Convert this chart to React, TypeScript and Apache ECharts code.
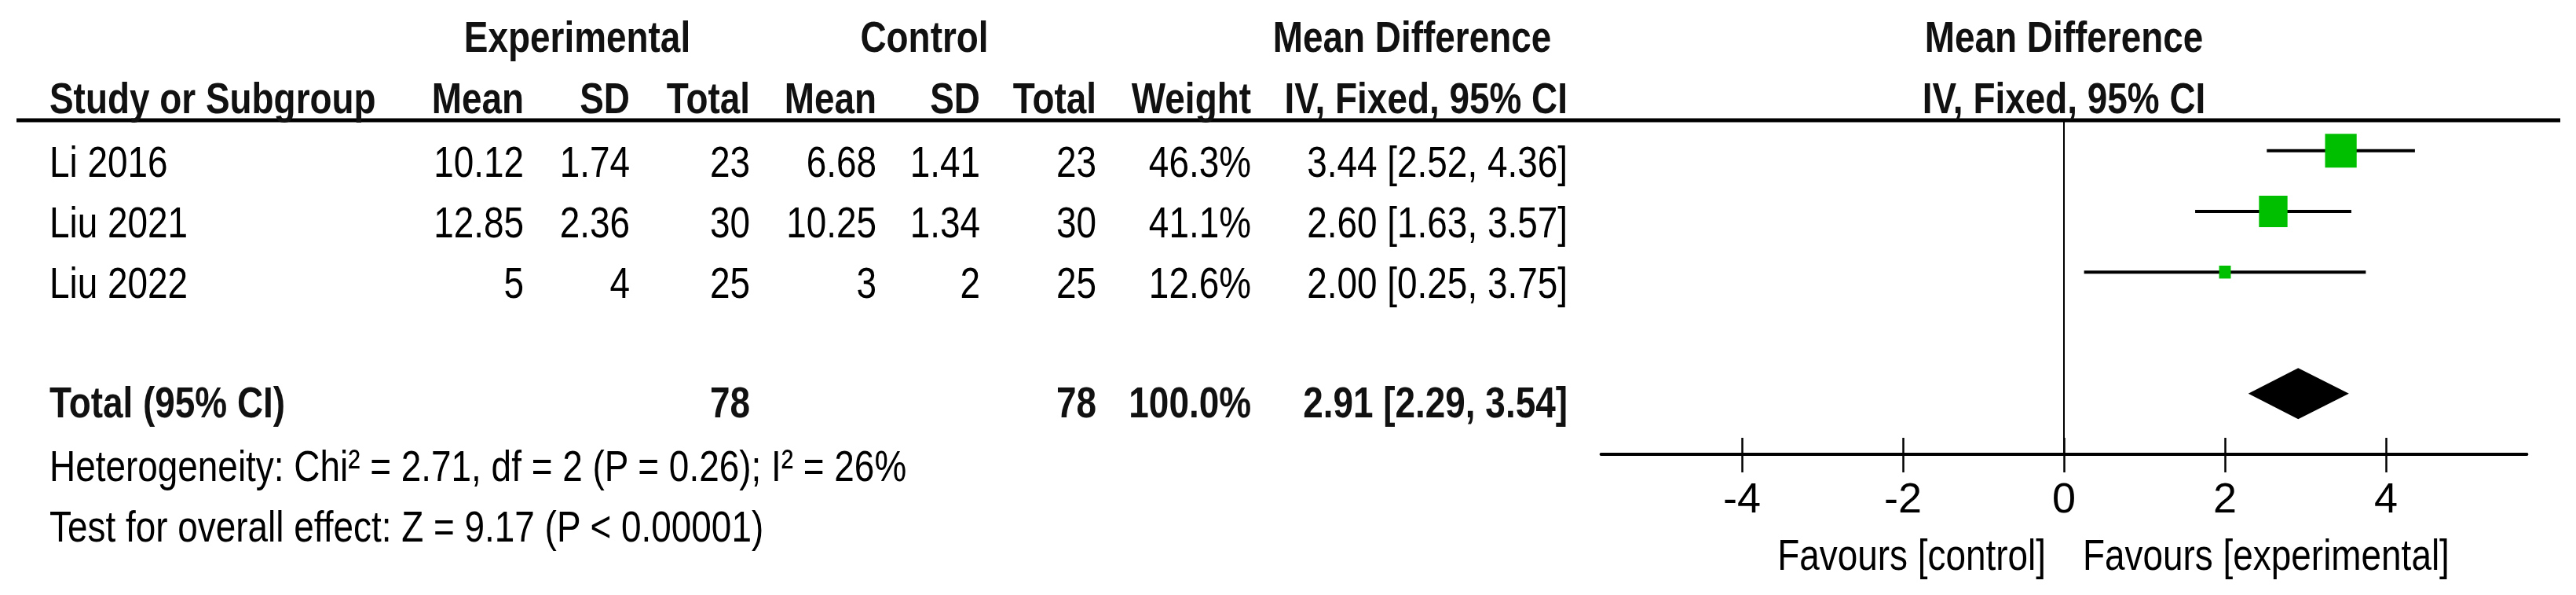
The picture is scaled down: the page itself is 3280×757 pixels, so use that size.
import React, { useEffect, useRef } from 'react';
import * as echarts from 'echarts';

// ---------- data ----------
const studies = ['Li 2016', 'Liu 2021', 'Liu 2022'];
const expMean = ['10.12', '12.85', '5'];
const expSD = ['1.74', '2.36', '4'];
const expTotal = [23, 30, 25];
const ctlMean = ['6.68', '10.25', '3'];
const ctlSD = ['1.41', '1.34', '2'];
const ctlTotal = [23, 30, 25];
const weights = [46.3, 41.1, 12.6];
const md = [3.44, 2.6, 2.0];
const ciLow = [2.52, 1.63, 0.25];
const ciHigh = [4.36, 3.57, 3.75];

const totalLabel = 'Total (95% CI)';
const totalExp = 78;
const totalCtl = 78;
const totalWeight = 100.0;
const totalMd = 2.91;
const totalLow = 2.29;
const totalHigh = 3.54;

const groupHeaders = ['Experimental', 'Control', 'Mean Difference'];
const columnHeaders = ['Mean', 'SD', 'Total', 'Mean', 'SD', 'Total', 'Weight', 'IV, Fixed, 95% CI'];
const studyHeader = 'Study or Subgroup';
const plotHeaders = ['Mean Difference', 'IV, Fixed, 95% CI'];
const heterogeneity = 'Heterogeneity: Chi² = 2.71, df = 2 (P = 0.26); I² = 26%';
const overallEffect = 'Test for overall effect: Z = 9.17 (P < 0.00001)';
const xTicks = [-4, -2, 0, 2, 4];
const favours = ['Favours [control]', 'Favours [experimental]'];

// ---------- layout ----------
const W = 3280;
const H = 757;
const FONT = "'Liberation Sans', Arial, sans-serif";
const FS = 56;
const NARROW = 0.82;
const X_MIN = -5.75;
const X_MAX = 5.75;
const ZERO_X = 2628;
const UNIT = 102.5;
const GRID_TOP = 153;
const AXIS_Y = 578;
const Y_MIN = -0.5;
const Y_MAX = 5;
const TOTAL_ROW = 4;
const rowPx = (i: number) => GRID_TOP + ((i - Y_MIN) * (AXIS_Y - GRID_TOP)) / (Y_MAX - Y_MIN);
const TEXT_DY = 14;

const colRight = [667, 802, 955, 1116, 1248, 1396, 1593, 1996];
const groupCenter = [735, 1177, 1798];
const LEFT_X = 63;

function txt(x: number, y: number, s: string, align: string, bold = false) {
  return {
    type: 'text',
    x,
    y,
    scaleX: NARROW,
    scaleY: 1,
    silent: true,
    style: {
      text: s,
      fontSize: FS,
      fontFamily: FONT,
      fontWeight: bold ? 'bold' : 'normal',
      fill: bold ? '#111' : '#000',
      align,
      verticalAlign: 'middle',
    },
  };
}

export default function App() {
  const ref = useRef<HTMLDivElement>(null);

  useEffect(() => {
    if (!ref.current) return;
    const chart = echarts.init(ref.current, null, { renderer: 'svg', width: W, height: H });

    const graphics: any[] = [];
    // header line
    graphics.push({
      type: 'line',
      silent: true,
      shape: { x1: 21, y1: GRID_TOP, x2: 3260, y2: GRID_TOP },
      style: { stroke: '#000', lineWidth: 5 },
    });
    // group headers
    groupHeaders.forEach((g, i) => graphics.push(txt(groupCenter[i], 47, g, 'center', true)));
    graphics.push(txt(ZERO_X, 47, plotHeaders[0], 'center', true));
    // column headers
    graphics.push(txt(LEFT_X, 125, studyHeader, 'left', true));
    columnHeaders.forEach((c, i) => graphics.push(txt(colRight[i], 125, c, 'right', true)));
    graphics.push(txt(ZERO_X, 125, plotHeaders[1], 'center', true));

    // study rows
    studies.forEach((s, i) => {
      const y = rowPx(i) + TEXT_DY;
      const cells = [
        expMean[i],
        expSD[i],
        String(expTotal[i]),
        ctlMean[i],
        ctlSD[i],
        String(ctlTotal[i]),
        weights[i].toFixed(1) + '%',
        `${md[i].toFixed(2)} [${ciLow[i].toFixed(2)}, ${ciHigh[i].toFixed(2)}]`,
      ];
      graphics.push(txt(LEFT_X, y, s, 'left'));
      cells.forEach((c, k) => graphics.push(txt(colRight[k], y, c, 'right')));
    });

    // total row
    const ty = rowPx(TOTAL_ROW) + TEXT_DY - 3;
    graphics.push(txt(LEFT_X, ty, totalLabel, 'left', true));
    graphics.push(txt(colRight[2], ty, String(totalExp), 'right', true));
    graphics.push(txt(colRight[5], ty, String(totalCtl), 'right', true));
    graphics.push(txt(colRight[6], ty, totalWeight.toFixed(1) + '%', 'right', true));
    graphics.push(
      txt(colRight[7], ty, `${totalMd.toFixed(2)} [${totalLow.toFixed(2)}, ${totalHigh.toFixed(2)}]`, 'right', true)
    );

    graphics.push(txt(LEFT_X, 593, heterogeneity, 'left'));
    graphics.push(txt(LEFT_X, 670, overallEffect, 'left'));

    graphics.push(txt(ZERO_X - 23, 706, favours[0], 'right'));
    graphics.push(txt(ZERO_X + 24, 706, favours[1], 'left'));

    const gridLeft = ZERO_X + X_MIN * UNIT;
    const gridRight = W - (ZERO_X + X_MAX * UNIT);

    const option: any = {
      animation: false,
      backgroundColor: '#fff',
      grid: {
        left: gridLeft,
        right: gridRight,
        top: GRID_TOP,
        bottom: H - AXIS_Y,
        containLabel: false,
        outerBoundsMode: 'none',
      },
      xAxis: [
        {
          type: 'value',
          position: 'bottom',
          min: X_MIN,
          max: X_MAX,
          splitLine: { show: false },
          axisLine: { show: true, onZero: false, lineStyle: { color: '#000', width: 4 } },
          axisTick: {
            show: true,
            inside: false,
            length: 23,
            customValues: xTicks,
            lineStyle: { color: '#000', width: 2.5 },
          },
          axisLabel: {
            show: true,
            customValues: xTicks,
            margin: 28,
            fontSize: 54,
            fontFamily: FONT,
            color: '#000',
          },
        },
        {
          type: 'value',
          position: 'bottom',
          min: X_MIN,
          max: X_MAX,
          splitLine: { show: false },
          axisLine: { show: false, onZero: false },
          axisTick: {
            show: true,
            inside: true,
            length: 21,
            customValues: xTicks,
            lineStyle: { color: '#000', width: 2.5 },
          },
          axisLabel: { show: false },
        },
      ],
      yAxis: {
        type: 'value',
        min: Y_MIN,
        max: Y_MAX,
        inverse: true,
        splitLine: { show: false },
        axisLine: { show: true, onZero: true, lineStyle: { color: '#000', width: 2 } },
        axisTick: { show: false },
        axisLabel: { show: false },
      },
      series: [
        {
          type: 'custom',
          xAxisIndex: 0,
          yAxisIndex: 0,
          silent: true,
          data: studies.map((s, i) => [md[i], i, ciLow[i], ciHigh[i], weights[i]]),
          encode: { x: [0, 2, 3], y: 1 },
          renderItem: (params: any, api: any) => {
            const row = api.value(1);
            const c = api.coord([api.value(0), row]);
            const l = api.coord([api.value(2), row]);
            const h = api.coord([api.value(3), row]);
            const w = api.value(4);
            const sw = 5.5 + 0.75 * w;
            const sh = Math.min(43, sw * 1.1);
            return {
              type: 'group',
              children: [
                {
                  type: 'line',
                  shape: { x1: l[0], y1: l[1], x2: h[0], y2: h[1] },
                  style: { stroke: '#000', lineWidth: 4 },
                },
                {
                  type: 'rect',
                  shape: { x: c[0] - sw / 2, y: c[1] - sh / 2, width: sw, height: sh },
                  style: { fill: '#00BF00' },
                },
              ],
            };
          },
        },
        {
          type: 'custom',
          xAxisIndex: 0,
          yAxisIndex: 0,
          silent: true,
          data: [[totalMd, TOTAL_ROW, totalLow, totalHigh]],
          encode: { x: [0, 2, 3], y: 1 },
          renderItem: (params: any, api: any) => {
            const row = api.value(1);
            const c = api.coord([api.value(0), row]);
            const l = api.coord([api.value(2), row]);
            const h = api.coord([api.value(3), row]);
            const half = 32.5;
            return {
              type: 'polygon',
              shape: {
                points: [
                  [l[0], c[1]],
                  [c[0], c[1] - half],
                  [h[0], c[1]],
                  [c[0], c[1] + half],
                ],
              },
              style: { fill: '#000' },
            };
          },
        },
      ],
      graphic: graphics,
    };

    chart.setOption(option);
    return () => chart.dispose();
  }, []);

  return (
    <div
      ref={ref}
      style={{ position: 'fixed', left: 0, top: 0, width: W, height: H, background: '#fff' }}
    />
  );
}
